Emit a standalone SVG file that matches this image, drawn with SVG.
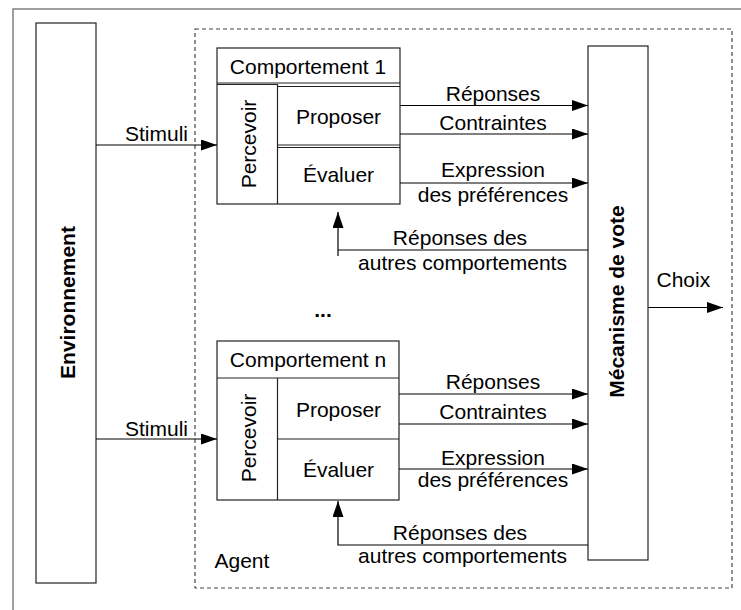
<svg xmlns="http://www.w3.org/2000/svg" width="741" height="610" viewBox="0 0 741 610">
<defs>
<marker id="ah" markerUnits="userSpaceOnUse" markerWidth="16" markerHeight="11" refX="16" refY="5.5" orient="auto">
<path d="M0,0 L16,5.5 L0,11 z" fill="#000"/>
</marker>
<style>
text{font-family:"Liberation Sans",Arial,sans-serif;font-size:21px;fill:#000}
.b{font-weight:bold}
.m{text-anchor:middle}
.box{fill:#fff;stroke:#222;stroke-width:1.2}
.ln{stroke:#222;stroke-width:1.2;fill:none}
.c{stroke:#000;stroke-width:1.2;fill:none}
.a{marker-end:url(#ah)}
</style>
</defs>
<rect width="741" height="610" fill="#fff"/>
<g id="frame">
<path d="M13,610 L13,9 L741,9" fill="none" stroke="#808080" stroke-width="1.5"/>
</g>
<g id="agent">
<rect x="195" y="29" width="537" height="559" fill="none" stroke="#444" stroke-width="1.2" stroke-dasharray="4,3"/>
<text x="214.5" y="568">Agent</text>
</g>
<g id="environnement">
<rect class="box" x="36" y="23" width="60" height="560"/>
<text class="b m" transform="translate(75,302.5) rotate(-90)">Environnement</text>
</g>
<g id="mecanisme">
<rect class="box" x="588" y="46" width="60" height="514" stroke="#555" stroke-width="1.5"/>
<text class="b m" transform="translate(623.5,301.5) rotate(-90)">Mécanisme de vote</text>
</g>
<g id="comportement1">
<rect class="box" x="217" y="48" width="183" height="156"/>
<line class="ln" x1="217" y1="84.5" x2="277.5" y2="84.5"/>
<line class="ln" x1="217" y1="83" x2="400" y2="83"/>
<line class="ln" x1="277.5" y1="86.5" x2="400" y2="86.5"/>
<line class="ln" x1="277.5" y1="84" x2="277.5" y2="204"/>
<line class="ln" x1="277.5" y1="145" x2="400" y2="145"/>
<line class="ln" x1="277.5" y1="147.5" x2="400" y2="147.5"/>
<text class="m" x="308" y="74">Comportement 1</text>
<text class="m" transform="translate(255.5,144) rotate(-90)">Percevoir</text>
<text class="m" x="338.5" y="124">Proposer</text>
<text class="m" x="338.5" y="182">Évaluer</text>
</g>
<g id="comportementn">
<rect class="box" x="217" y="341" width="182" height="159"/>
<line class="ln" x1="217" y1="378" x2="399" y2="378"/>
<line class="ln" x1="277.5" y1="378" x2="277.5" y2="500"/>
<line class="ln" x1="277.5" y1="439" x2="399" y2="439"/>
<text class="m" x="308" y="367">Comportement n</text>
<text class="m" transform="translate(255.5,438) rotate(-90)">Percevoir</text>
<text class="m" x="338.5" y="417">Proposer</text>
<text class="m" x="338.5" y="477">Évaluer</text>
</g>
<text id="ellipsis" class="b m" x="323" y="317">...</text>
<g id="connectors">
<line class="c a" x1="96" y1="145" x2="217" y2="145"/>
<line class="c a" x1="96" y1="439" x2="217" y2="439"/>
<line class="c a" x1="400" y1="105.5" x2="588" y2="105.5"/>
<line class="c a" x1="400" y1="134" x2="588" y2="134"/>
<line class="c a" x1="400" y1="183" x2="588" y2="183"/>
<line class="c a" x1="399" y1="394" x2="588" y2="394"/>
<line class="c a" x1="399" y1="424" x2="588" y2="424"/>
<line class="c a" x1="399" y1="469" x2="588" y2="469"/>
<line class="c" x1="588" y1="250" x2="338" y2="250"/>
<line class="c a" x1="338" y1="256" x2="338" y2="212"/>
<polyline class="c a" points="588,545 338,545 338,501"/>
<line class="c a" x1="648" y1="307.5" x2="723" y2="307.5"/>
<text x="156.5" y="141" class="m">Stimuli</text>
<text x="156.5" y="435.5" class="m">Stimuli</text>
<text x="493" y="101" class="m">Réponses</text>
<text x="493" y="130" class="m">Contraintes</text>
<text x="493" y="177" class="m">Expression</text>
<text x="493" y="201.5" class="m">des préférences</text>
<text x="460" y="245" class="m">Réponses des</text>
<text x="462.5" y="270" class="m">autres comportements</text>
<text x="493" y="388.5" class="m">Réponses</text>
<text x="493" y="419" class="m">Contraintes</text>
<text x="493" y="465" class="m">Expression</text>
<text x="493" y="487" class="m">des préférences</text>
<text x="460" y="540" class="m">Réponses des</text>
<text x="462.5" y="563" class="m">autres comportements</text>
<text x="656.5" y="287">Choix</text>
</g>
</svg>
